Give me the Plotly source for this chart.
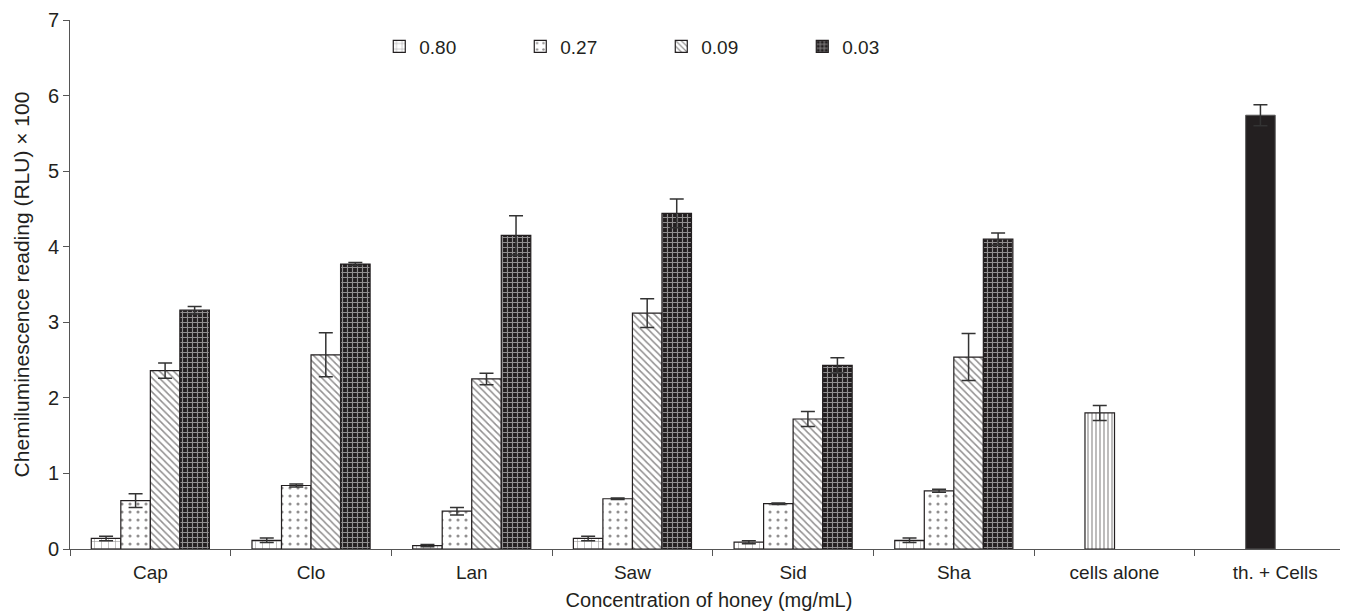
import plotly.graph_objects as go

categories = ["Cap", "Clo", "Lan", "Saw", "Sid", "Sha", "cells alone", "th. + Cells"]
honeys = ["Cap", "Clo", "Lan", "Saw", "Sid", "Sha"]
series_names = ["0.80", "0.27", "0.09", "0.03"]

vals_080 = [0.14, 0.115, 0.045, 0.14, 0.09, 0.115]
vals_027 = [0.64, 0.84, 0.50, 0.665, 0.60, 0.77]
vals_009 = [2.36, 2.57, 2.25, 3.12, 1.72, 2.54]
vals_003 = [3.16, 3.77, 4.15, 4.44, 2.43, 4.10]

err_080 = [0.03, 0.03, 0.015, 0.03, 0.02, 0.03]
err_027 = [0.09, 0.02, 0.05, 0.01, 0.01, 0.02]
err_009 = [0.10, 0.29, 0.075, 0.19, 0.10, 0.31]
err_003 = [0.05, 0.02, 0.26, 0.19, 0.10, 0.08]

control_cats = ["cells alone", "th. + Cells"]
cells_alone_val = [1.80]
cells_alone_err = [0.10]
th_cells_val = [5.74]
th_cells_err = [0.14]

y_ticks = [0, 1, 2, 3, 4, 5, 6, 7]

INK = "#231f20"
series_vals = [vals_080, vals_027, vals_009, vals_003]
series_errs = [err_080, err_027, err_009, err_003]
patterns = [
    dict(shape="+", size=7, solidity=0.15, fgcolor=INK, bgcolor="white"),
    dict(shape=".", size=8, solidity=0.12, fgcolor=INK, bgcolor="white"),
    dict(shape="\\", size=5, solidity=0.3, fgcolor=INK, bgcolor="white"),
    dict(shape="+", size=5, solidity=0.4, fgcolor="white", bgcolor=INK),
]
groups = ["g1", "g2", "g3", "g4"]

fig = go.Figure()
for name, v, e, pat, g in zip(series_names, series_vals, series_errs, patterns, groups):
    fig.add_trace(go.Bar(
        name=name, x=honeys, y=v, offsetgroup=g,
        marker=dict(color="white", pattern=pat, line=dict(color=INK, width=1.2)),
        error_y=dict(type="data", array=e, visible=True, color="#333333", thickness=1.5, width=7),
    ))

fig.add_trace(go.Bar(
    name="cells alone", x=[control_cats[0]], y=cells_alone_val, offsetgroup="g2", showlegend=False,
    marker=dict(color="white", pattern=dict(shape="|", size=4, solidity=0.3, fgcolor=INK, bgcolor="white"),
                line=dict(color=INK, width=1.2)),
    error_y=dict(type="data", array=cells_alone_err, visible=True, color="#333333", thickness=1.5, width=7),
))
fig.add_trace(go.Bar(
    name="th. + Cells", x=[control_cats[1]], y=th_cells_val, offsetgroup="g2", showlegend=False,
    marker=dict(color=INK, line=dict(color="#555555", width=1)),
    error_y=dict(type="data", array=th_cells_err, visible=True, color="#333333", thickness=1.5, width=7),
))

fig.update_layout(
    width=1340, height=603,
    margin=dict(l=62, r=0, t=12, b=62),
    paper_bgcolor="white", plot_bgcolor="white",
    barmode="group", bargap=0.265, bargroupgap=0,
    font=dict(family="Liberation Sans, Arial, sans-serif", size=18, color=INK),
    legend=dict(orientation="h", x=0.242, y=0.95, xanchor="left", yanchor="middle",
                font=dict(size=19), entrywidth=96, entrywidthmode="pixels",
                bgcolor="rgba(0,0,0,0)", itemclick=False),
    showlegend=True,
)
fig.update_xaxes(
    categoryorder="array", categoryarray=categories,
    range=[-0.5, 7.453], automargin=False,
    showline=True, linecolor="#555555", linewidth=1,
    ticks="outside", tickson="boundaries", ticklen=6, tickcolor="#555555",
    tickfont=dict(size=19), ticklabelstandoff=6,
    title=dict(text="Concentration of honey (mg/mL)", font=dict(size=20), standoff=11),
    showgrid=False, zeroline=False,
)
fig.update_yaxes(
    range=[0, 7], tickvals=y_ticks, automargin=False,
    showline=True, linecolor="#555555", linewidth=1,
    ticks="outside", ticklen=6, tickcolor="#555555",
    tickfont=dict(size=20),
    title=dict(text="Chemiluminescence reading (RLU) × 100", font=dict(size=21), standoff=12),
    showgrid=False, zeroline=False,
)

fig.write_html("out.html")
